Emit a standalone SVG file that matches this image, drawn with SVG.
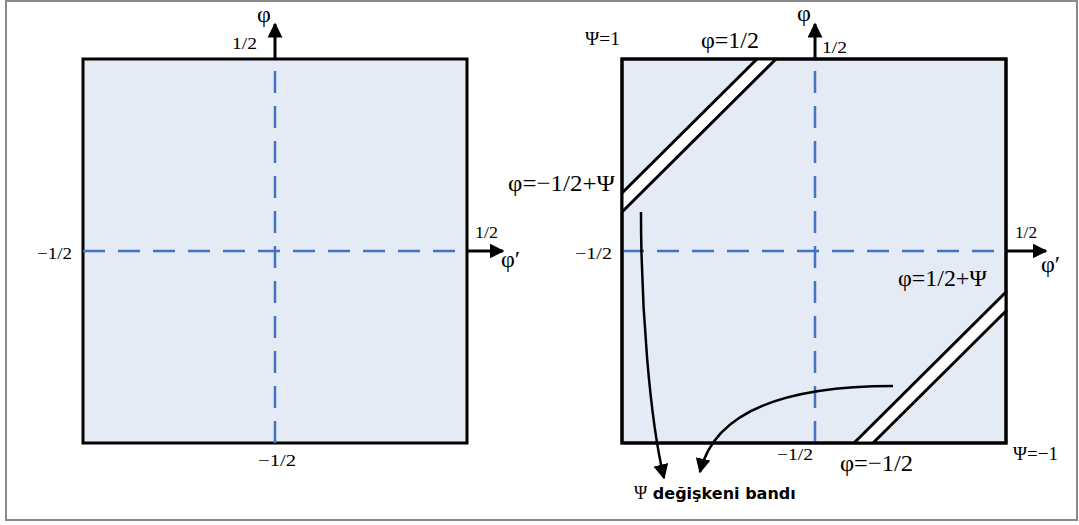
<svg xmlns="http://www.w3.org/2000/svg" width="1079" height="525" viewBox="0 0 1079 525">
<defs>
<style>
.frame{fill:none;stroke:#8a8a8a;stroke-width:2}
.sq{fill:#E5EBF5;stroke:#000;stroke-width:3}
.dash{fill:none;stroke:#4472C4;stroke-width:2.5;stroke-dasharray:22 13}
.ax{fill:none;stroke:#000;stroke-width:3}
.cv{fill:none;stroke:#000;stroke-width:2.5}
.band{fill:#fff;stroke:none}
.bl{stroke:#000;stroke-width:3}
.t{font-family:"Liberation Serif","Times New Roman",serif;fill:#000}
.s{font-size:17px}
.p{font-size:19px}
.m{font-size:24px}
.lab{font-family:"DejaVu Sans","Liberation Sans",sans-serif;font-weight:bold;font-size:16px;fill:#000}
</style>
<marker id="ah" viewBox="0 0 10 10" refX="9" refY="5" markerWidth="5" markerHeight="5" orient="auto" markerUnits="strokeWidth">
<path d="M0,0 L10,5 L0,10 z" fill="#000"/>
</marker>
<marker id="ah2" viewBox="0 0 10 10" refX="9" refY="5" markerWidth="6" markerHeight="6" orient="auto" markerUnits="strokeWidth">
<path d="M0,0 L10,5 L0,10 z" fill="#000"/>
</marker>
</defs>
<rect class="frame" x="6" y="1" width="1071" height="519"/>

<g id="left-plot">
<rect class="sq" x="83" y="59" width="384" height="384"/>
<line class="dash" x1="275" y1="443" x2="275" y2="59"/>
<line class="dash" x1="83" y1="251" x2="467" y2="251"/>
<line class="ax" x1="275" y1="59" x2="275" y2="24" marker-end="url(#ah)"/>
<line class="ax" x1="467" y1="251" x2="503" y2="251" marker-end="url(#ah)"/>
<text class="t s" x="232" y="49" textLength="25" lengthAdjust="spacingAndGlyphs">1/2</text>
<text class="t m" x="257" y="22">φ</text>
<text class="t s" x="37" y="259" textLength="35" lengthAdjust="spacingAndGlyphs">−1/2</text>
<text class="t s" x="475" y="238" textLength="23" lengthAdjust="spacingAndGlyphs">1/2</text>
<text class="t m" x="501" y="267">φ′</text>
<text class="t s" x="258" y="466" textLength="38" lengthAdjust="spacingAndGlyphs">−1/2</text>
</g>

<g id="right-plot">
<rect class="sq" x="622" y="59" width="384" height="384"/>
<line class="dash" x1="815" y1="443" x2="815" y2="59"/>
<line class="dash" x1="622" y1="251" x2="1006" y2="251"/>
<polygon class="band" points="622,193 757,59 776,59 622,212"/>
<line class="bl" x1="622" y1="193" x2="757" y2="59"/>
<line class="bl" x1="622" y1="212" x2="776" y2="59"/>
<polygon class="band" points="854,443 1007,291 1007,310 873,443"/>
<line class="bl" x1="854" y1="443" x2="1007" y2="291"/>
<line class="bl" x1="873" y1="443" x2="1007" y2="310"/>
<rect x="622" y="59" width="384" height="384" fill="none" stroke="#000" stroke-width="3"/>
<line class="ax" x1="815" y1="59" x2="815" y2="24" marker-end="url(#ah)"/>
<line class="ax" x1="1006" y1="251" x2="1046" y2="251" marker-end="url(#ah)"/>
<text class="t p" x="585" y="45" textLength="35" lengthAdjust="spacingAndGlyphs">Ψ=1</text>
<text class="t m" x="701" y="48" textLength="58" lengthAdjust="spacingAndGlyphs">φ=1/2</text>
<text class="t m" x="797" y="21">φ</text>
<text class="t s" x="822" y="53" textLength="25" lengthAdjust="spacingAndGlyphs">1/2</text>
<text class="t m" x="508" y="191" textLength="107" lengthAdjust="spacingAndGlyphs">φ=−1/2+Ψ</text>
<text class="t s" x="575" y="259" textLength="37" lengthAdjust="spacingAndGlyphs">−1/2</text>
<text class="t s" x="1015" y="238" textLength="22" lengthAdjust="spacingAndGlyphs">1/2</text>
<text class="t m" x="1041" y="272">φ′</text>
<text class="t m" x="898" y="286" textLength="89" lengthAdjust="spacingAndGlyphs">φ=1/2+Ψ</text>
<text class="t s" x="777" y="460" textLength="36" lengthAdjust="spacingAndGlyphs">−1/2</text>
<text class="t m" x="840" y="471" textLength="73" lengthAdjust="spacingAndGlyphs">φ=−1/2</text>
<text class="t p" x="1013" y="460" textLength="45" lengthAdjust="spacingAndGlyphs">Ψ=−1</text>
</g>

<g id="connectors">
<path class="cv" d="M641,212 C641,310 650,420 664,478" marker-end="url(#ah2)"/>
<path class="cv" d="M893,386 C800,386 716,405 700,472" marker-end="url(#ah2)"/>
</g>

<g id="label">
<text x="634" y="499"><tspan class="t" style="font-size:18px">Ψ</tspan><tspan class="lab"> değişkeni bandı</tspan></text>
</g>
</svg>
